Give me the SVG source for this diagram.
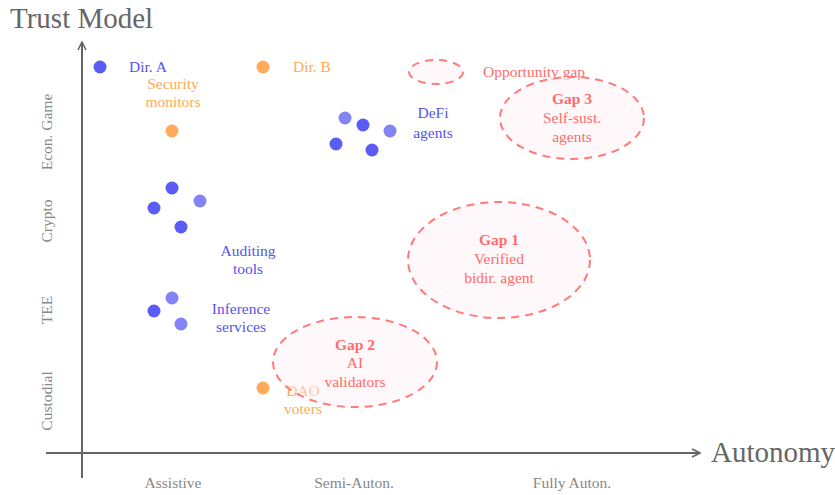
<svg xmlns="http://www.w3.org/2000/svg" width="835" height="495" viewBox="0 0 835 495">
<style>
text{font-family:"Liberation Serif","Times New Roman",serif}
.ax{stroke:#666;stroke-width:2;fill:none}
.title{font-size:29px;fill:#666}
.tick{font-size:15.5px;fill:#888;text-anchor:middle}
.b{fill:#5b5bf5}
.bl{fill:#8383f5}
.o{fill:#ffaa5c}
.bt{font-size:15.5px;fill:#5555ee}
.ot{font-size:15.5px;fill:#ffaa55}
.gap{fill:#fff0f4;fill-opacity:0.45;stroke:#ff7b7b;stroke-width:2;stroke-dasharray:8 6}
.gt{font-size:15.5px;fill:#ff6b6b;text-anchor:middle}
.gb{font-weight:bold}
.c{text-anchor:middle}
</style>
<defs>
<marker id="arr" viewBox="0 0 10 10" refX="9" refY="5" markerWidth="10" markerHeight="10" markerUnits="userSpaceOnUse" orient="auto">
<path d="M1,1 L9,5 L1,9" fill="none" stroke="#666" stroke-width="1.6"/>
</marker>
</defs>
<g id="axes">
<line class="ax" x1="82" y1="478" x2="82" y2="42" marker-end="url(#arr)"/>
<line class="ax" x1="46" y1="453" x2="700" y2="453" marker-end="url(#arr)"/>
<text class="title" x="10" y="28">Trust Model</text>
<text class="title" x="711" y="462">Autonomy</text>
<text class="tick" x="173" y="488">Assistive</text>
<text class="tick" x="354" y="488">Semi-Auton.</text>
<text class="tick" x="572" y="488">Fully Auton.</text>
<text class="tick" transform="translate(52,132) rotate(-90)">Econ. Game</text>
<text class="tick" transform="translate(52,221) rotate(-90)">Crypto</text>
<text class="tick" transform="translate(52,310) rotate(-90)">TEE</text>
<text class="tick" transform="translate(52,401) rotate(-90)">Custodial</text>
</g>
<g id="dirA">
<circle class="b" cx="100" cy="67" r="6.5"/>
<text class="bt" x="129" y="72">Dir. A</text>
</g>
<g id="dirB">
<circle class="o" cx="263" cy="67" r="6.5"/>
<text class="ot" x="293" y="72">Dir. B</text>
</g>
<g id="security">
<circle class="o" cx="172" cy="131" r="6.5"/>
<text class="ot c" x="173" y="89">Security</text>
<text class="ot c" x="173" y="107">monitors</text>
</g>
<g id="defi">
<circle class="bl" cx="345" cy="118" r="6.5"/>
<circle class="b" cx="363" cy="125" r="6.5"/>
<circle class="bl" cx="390" cy="131" r="6.5"/>
<circle class="b" cx="336" cy="144" r="6.5"/>
<circle class="b" cx="372" cy="150" r="6.5"/>
<text class="bt c" x="433" y="118">DeFi</text>
<text class="bt c" x="433" y="138">agents</text>
</g>
<g id="auditing">
<circle class="b" cx="172" cy="188" r="6.5"/>
<circle class="bl" cx="200" cy="201" r="6.5"/>
<circle class="b" cx="154" cy="208" r="6.5"/>
<circle class="b" cx="181" cy="227" r="6.5"/>
<text class="bt c" x="248" y="256">Auditing</text>
<text class="bt c" x="248" y="274">tools</text>
</g>
<g id="inference">
<circle class="bl" cx="172" cy="298" r="6.5"/>
<circle class="b" cx="154" cy="311" r="6.5"/>
<circle class="bl" cx="181" cy="324" r="6.5"/>
<text class="bt c" x="241" y="314">Inference</text>
<text class="bt c" x="241" y="332">services</text>
</g>
<g id="dao">
<circle class="o" cx="263" cy="388" r="6.5"/>
<text class="ot c" x="303" y="396">DAO</text>
<text class="ot c" x="303" y="414">voters</text>
</g>
<g id="opportunity">
<text class="gt" x="483" y="77" style="text-anchor:start">Opportunity gap</text>
<ellipse class="gap" cx="436" cy="72" rx="27" ry="12"/>
</g>
<g id="gap3">
<ellipse class="gap" cx="572" cy="118" rx="72" ry="41"/>
<text class="gt gb" x="572" y="104">Gap 3</text>
<text class="gt" x="572" y="123">Self-sust.</text>
<text class="gt" x="572" y="142">agents</text>
</g>
<g id="gap1">
<ellipse class="gap" cx="499" cy="260" rx="91" ry="58"/>
<text class="gt gb" x="499" y="245">Gap 1</text>
<text class="gt" x="499" y="264">Verified</text>
<text class="gt" x="499" y="283">bidir. agent</text>
</g>
<g id="gap2">
<ellipse class="gap" cx="355" cy="362" rx="82" ry="45"/>
<text class="gt gb" x="355" y="350">Gap 2</text>
<text class="gt" x="355" y="368">AI</text>
<text class="gt" x="355" y="387">validators</text>
</g>
<g id="connectors"></g>
</svg>
